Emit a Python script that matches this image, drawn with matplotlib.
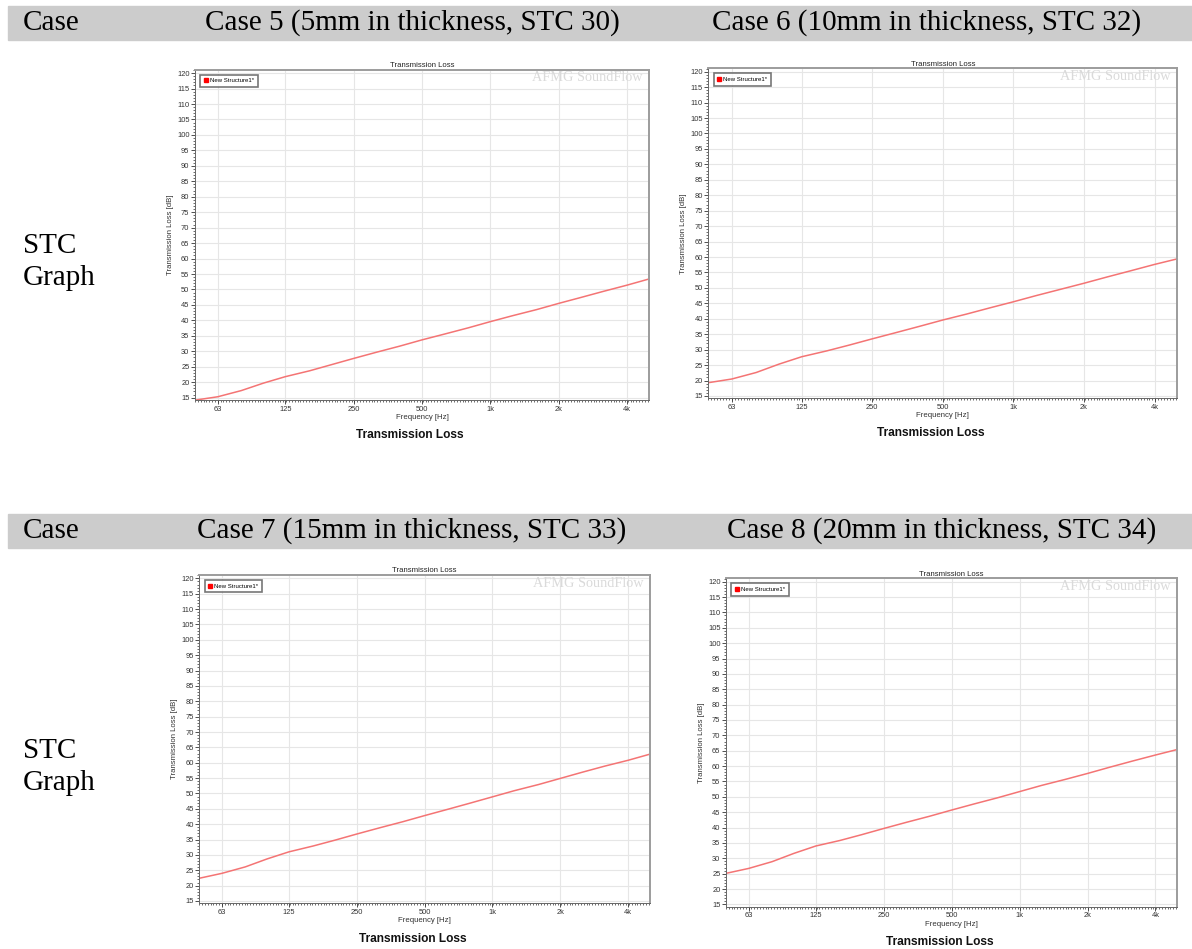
import numpy as np
import matplotlib.pyplot as plt
from matplotlib.patches import Rectangle
from matplotlib.lines import Line2D
from matplotlib.ticker import FixedLocator, MultipleLocator, NullFormatter

# 1/3 octave band centres [Hz]
freq = [50, 63, 80, 100, 125, 160, 200, 250, 315, 400, 500, 630, 800,
        1000, 1250, 1600, 2000, 2500, 3150, 4000, 5000]

# transmission loss [dB]
tl_case5 = [14.2, 15.3, 17.3, 19.7, 21.8, 23.7, 25.7, 27.7, 29.7, 31.7, 33.7,
            35.6, 37.6, 39.6, 41.5, 43.5, 45.5, 47.4, 49.4, 51.4, 53.4]
tl_case6 = [19.3, 20.5, 22.6, 25.3, 27.7, 29.6, 31.5, 33.5, 35.5, 37.6, 39.6,
            41.5, 43.6, 45.5, 47.5, 49.6, 51.5, 53.5, 55.5, 57.6, 59.4]
tl_case7 = [22.4, 24.0, 26.1, 28.7, 31.0, 32.9, 34.8, 36.8, 38.8, 40.8, 42.8,
            44.8, 46.9, 48.9, 50.9, 52.9, 54.9, 56.9, 58.9, 60.8, 62.8]
tl_case8 = [25.1, 26.7, 28.9, 31.6, 34.0, 35.8, 37.7, 39.7, 41.7, 43.7, 45.7,
            47.7, 49.7, 51.7, 53.7, 55.7, 57.6, 59.6, 61.6, 63.6, 65.4]

case_titles = ["Case 5 (5mm in thickness, STC 30)",
               "Case 6 (10mm in thickness, STC 32)",
               "Case 7 (15mm in thickness, STC 33)",
               "Case 8 (20mm in thickness, STC 34)"]

oct_ticks = [63, 125, 250, 500, 1000, 2000, 4000]
oct_labels = ["63", "125", "250", "500", "1k", "2k", "4k"]

W, H = 1192, 949
fig = plt.figure(figsize=(W / 100, H / 100), dpi=100)

def fx(x):
    return x / W

def fy(y):
    return 1 - y / H

# header bars of the table
for ytop in [6, 514]:
    fig.add_artist(Rectangle((fx(8), fy(ytop + 34)), 1 - fx(8), 34 / H,
                             transform=fig.transFigure, color="#cccccc", zorder=0))

serif = ["Liberation Serif", "DejaVu Serif"]
hdr = dict(family=serif, fontsize=21, va="center", ha="left")
fig.text(fx(23), fy(23), "Case", **hdr)
fig.text(fx(205), fy(23), case_titles[0], **hdr)
fig.text(fx(712), fy(23), case_titles[1], **hdr)
fig.text(fx(23), fy(531), "Case", **hdr)
fig.text(fx(197), fy(531), case_titles[2], **hdr)
fig.text(fx(727), fy(531), case_titles[3], **hdr)
for yc in [262, 767]:
    fig.text(fx(23), fy(yc), "STC\nGraph", family=serif, fontsize=21,
             va="center", ha="left", linespacing=1.3)

# axes boxes in pixels: left, top, right, bottom
boxes = [(195, 69.7, 649, 400), (708.3, 68.3, 1177.3, 398.3),
         (199.3, 575, 650, 903.3), (726, 578.3, 1177.3, 906.7)]
captions_y = [435, 433, 939, 941.7]
series = [tl_case5, tl_case6, tl_case7, tl_case8]

sans = ["Liberation Sans", "DejaVu Sans"]
minor_x = [50 * 2 ** (k / 24) for k in range(0, 24 * 7) if 50 * 2 ** (k / 24) <= 5000]

for (l, t, r, b), tl, cy in zip(boxes, series, captions_y):
    ax = fig.add_axes([fx(l), fy(b), (r - l) / W, (b - t) / H])
    ax.plot(freq, tl, color="#f47474", lw=1.1)
    ax.set_xscale("log")
    ax.set_xlim(50, 5000)
    ax.set_ylim(14.25, 121.1)
    ax.xaxis.set_major_locator(FixedLocator(oct_ticks))
    ax.set_xticklabels(oct_labels)
    ax.xaxis.set_minor_locator(FixedLocator(minor_x))
    ax.xaxis.set_minor_formatter(NullFormatter())
    ax.yaxis.set_major_locator(MultipleLocator(5))
    ax.yaxis.set_minor_locator(MultipleLocator(1))
    ax.tick_params(axis="both", which="major", labelsize=5.4, length=3,
                   width=0.6, pad=1, color="#333333", labelcolor="#333333")
    ax.tick_params(axis="both", which="minor", length=1.6, width=0.5, color="#333333")
    for lab in ax.get_xticklabels() + ax.get_yticklabels():
        lab.set_family(sans)
    ax.grid(True, which="major", color="#e6e6e6", lw=0.8)
    for side in ["top", "right"]:
        ax.spines[side].set_color("#9c9c9c")
        ax.spines[side].set_linewidth(1.4)
    ax.spines["left"].set_color("#666666")
    ax.spines["bottom"].set_color("#666666")
    ax.spines["left"].set_linewidth(0.7)
    ax.spines["bottom"].set_linewidth(0.7)
    ax.set_title("Transmission Loss", fontsize=5.6, family=sans, pad=2, color="#222222")
    ax.set_xlabel("Frequency [Hz]", fontsize=5.6, family=sans, labelpad=1, color="#333333")
    ax.set_ylabel("Transmission Loss [dB]", fontsize=5.6, family=sans, labelpad=2, color="#333333")
    ax.text(0.985, 0.995, "AFMG SoundFlow", transform=ax.transAxes, ha="right", va="top",
            family=serif, fontsize=10.3, color="#dadada")
    h = Line2D([], [], marker="s", color="red", ls="none", ms=2.2, label="New Structure1*")
    leg = ax.legend(handles=[h], loc="upper left", bbox_to_anchor=(0.012, 0.985),
                    prop={"family": sans, "size": 4.3}, fancybox=False,
                    handlelength=0.6, handletextpad=0.4, borderpad=0.6,
                    borderaxespad=0)
    leg.get_frame().set_edgecolor("#555555")
    leg.get_frame().set_linewidth(1.2)
    fig.text(fx((l + r) / 2 - 12), fy(cy), "Transmission Loss", family=sans,
             fontsize=8.6, fontweight="bold", ha="center", va="center", color="#111111")

plt.savefig("out.png", dpi=100)
